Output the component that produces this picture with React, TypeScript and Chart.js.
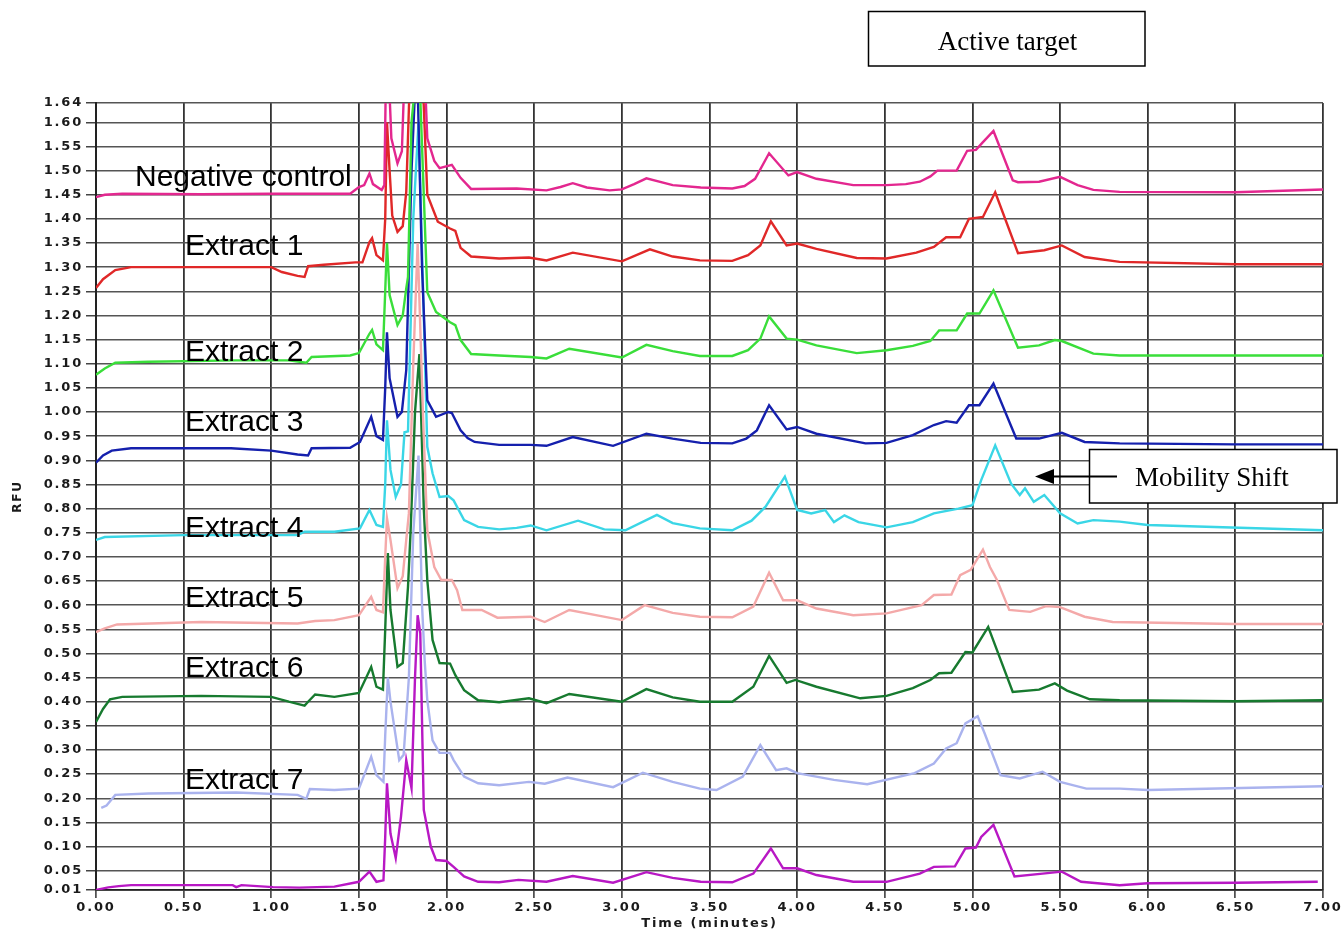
import React, { useEffect, useRef } from "react";
import { Chart, registerables } from "chart.js";

Chart.register(...registerables);

// ---- tick labels ----
const yTickValues = [
  0.01, 0.05, 0.1, 0.15, 0.2, 0.25, 0.3, 0.35, 0.4, 0.45, 0.5, 0.55, 0.6, 0.65, 0.7, 0.75, 0.8,
  0.85, 0.9, 0.95, 1.0, 1.05, 1.1, 1.15, 1.2, 1.25, 1.3, 1.35, 1.4, 1.45, 1.5, 1.55, 1.6, 1.64,
];
const xMin = 0;
const xMax = 7;
const xStep = 0.5;
const yMin = 0.01;
const yMax = 1.64;

// ---- series names & colours ----
const seriesNames = [
  "Negative control",
  "Extract 1",
  "Extract 2",
  "Extract 3",
  "Extract 4",
  "Extract 5",
  "Extract 6",
  "Extract 7",
  "Trace 9",
];
const seriesColors = [
  "#e3278f",
  "#e02828",
  "#3ade3a",
  "#1520ad",
  "#3ad6e6",
  "#f4a9a9",
  "#177a2f",
  "#aab3ee",
  "#b818c4",
];

// ---- series values: [time (min), RFU] ----
const negativeControl = [
  [0, 1.445], [0.05, 1.45], [0.15, 1.452], [0.6, 1.451], [1.0, 1.452], [1.45, 1.452], [1.5, 1.466],
  [1.53, 1.47], [1.56, 1.494], [1.58, 1.472], [1.63, 1.46], [1.645, 1.47], [1.655, 1.72], [1.67, 1.7],
  [1.685, 1.567], [1.72, 1.515], [1.745, 1.54], [1.76, 1.7], [1.8, 1.9], [1.84, 2.0], [1.87, 1.75],
  [1.89, 1.567], [1.93, 1.52], [1.96, 1.505], [2.03, 1.512], [2.08, 1.485], [2.14, 1.462], [2.4, 1.463],
  [2.57, 1.459], [2.65, 1.466], [2.72, 1.474], [2.8, 1.465], [2.93, 1.459], [3.0, 1.461], [3.07, 1.472],
  [3.14, 1.484], [3.29, 1.47], [3.45, 1.465], [3.63, 1.463], [3.7, 1.468], [3.76, 1.483], [3.84, 1.536],
  [3.95, 1.49], [4.0, 1.497], [4.11, 1.483], [4.32, 1.47], [4.51, 1.47], [4.62, 1.472], [4.7, 1.477],
  [4.76, 1.488], [4.8, 1.5], [4.91, 1.5], [4.97, 1.541], [5.02, 1.543], [5.06, 1.559], [5.12, 1.582],
  [5.23, 1.48], [5.26, 1.476], [5.38, 1.477], [5.5, 1.487], [5.6, 1.47], [5.69, 1.46], [5.84, 1.456],
  [6.5, 1.455], [7.0, 1.461],
];
const extract1 = [
  [0, 1.257], [0.04, 1.275], [0.11, 1.294], [0.2, 1.3], [0.6, 1.3], [1.0, 1.3], [1.06, 1.29],
  [1.15, 1.282], [1.19, 1.28], [1.21, 1.302], [1.3, 1.305], [1.48, 1.31], [1.52, 1.31], [1.56, 1.352],
  [1.575, 1.36], [1.6, 1.325], [1.637, 1.314], [1.65, 1.4], [1.66, 1.6], [1.675, 1.5], [1.69, 1.407],
  [1.72, 1.373], [1.75, 1.385], [1.77, 1.456], [1.8, 1.8], [1.84, 1.9], [1.875, 1.588], [1.89, 1.45],
  [1.95, 1.394], [2.02, 1.38], [2.05, 1.375], [2.08, 1.34], [2.14, 1.322], [2.3, 1.318], [2.47, 1.32],
  [2.57, 1.314], [2.72, 1.33], [3.0, 1.312], [3.16, 1.337], [3.29, 1.322], [3.445, 1.314], [3.63, 1.313],
  [3.72, 1.325], [3.79, 1.345], [3.85, 1.395], [3.94, 1.345], [4.0, 1.349], [4.11, 1.338], [4.34, 1.319],
  [4.51, 1.318], [4.68, 1.33], [4.78, 1.342], [4.85, 1.362], [4.93, 1.362], [4.98, 1.4], [5.06, 1.404],
  [5.13, 1.455], [5.26, 1.329], [5.41, 1.335], [5.51, 1.345], [5.64, 1.321], [5.84, 1.311], [6.5, 1.306],
  [7.0, 1.306],
];
const extract2 = [
  [0, 1.077], [0.05, 1.09], [0.11, 1.102], [0.3, 1.104], [0.8, 1.107], [1.1, 1.107], [1.2, 1.102],
  [1.23, 1.114], [1.45, 1.117], [1.5, 1.122], [1.56, 1.162], [1.575, 1.17], [1.6, 1.14], [1.637, 1.128],
  [1.65, 1.25], [1.66, 1.35], [1.675, 1.242], [1.72, 1.18], [1.75, 1.2], [1.77, 1.256], [1.78, 1.28],
  [1.8, 1.6], [1.84, 1.75], [1.875, 1.4], [1.89, 1.248], [1.94, 1.207], [2.02, 1.186], [2.05, 1.18],
  [2.08, 1.149], [2.14, 1.12], [2.3, 1.117], [2.48, 1.114], [2.57, 1.111], [2.7, 1.131], [3.0, 1.113],
  [3.14, 1.139], [3.29, 1.126], [3.445, 1.116], [3.63, 1.116], [3.72, 1.128], [3.79, 1.152], [3.84, 1.198],
  [3.94, 1.152], [4.0, 1.15], [4.11, 1.138], [4.34, 1.122], [4.51, 1.128], [4.66, 1.137], [4.76, 1.147],
  [4.81, 1.169], [4.91, 1.169], [4.97, 1.204], [5.04, 1.204], [5.12, 1.252], [5.26, 1.133], [5.38, 1.138],
  [5.47, 1.149], [5.51, 1.147], [5.69, 1.121], [5.84, 1.117], [6.5, 1.117], [7.0, 1.117],
];
const extract3 = [
  [0, 0.895], [0.04, 0.91], [0.09, 0.92], [0.2, 0.925], [0.77, 0.925], [1.0, 0.92], [1.15, 0.912],
  [1.21, 0.91], [1.23, 0.925], [1.45, 0.926], [1.506, 0.938], [1.57, 0.99], [1.6, 0.95], [1.637, 0.942],
  [1.65, 1.05], [1.66, 1.165], [1.675, 1.07], [1.72, 0.99], [1.745, 1.0], [1.77, 1.087], [1.8, 1.5],
  [1.83, 1.75], [1.86, 1.3], [1.89, 1.024], [1.92, 1.004], [1.94, 0.99], [2.01, 1.0], [2.03, 0.998],
  [2.08, 0.962], [2.12, 0.946], [2.16, 0.938], [2.3, 0.932], [2.48, 0.932], [2.57, 0.93], [2.72, 0.948],
  [2.95, 0.93], [3.14, 0.955], [3.29, 0.945], [3.45, 0.936], [3.63, 0.935], [3.71, 0.945], [3.77, 0.962],
  [3.84, 1.014], [3.94, 0.964], [4.0, 0.969], [4.11, 0.955], [4.39, 0.935], [4.51, 0.936], [4.66, 0.952],
  [4.78, 0.973], [4.85, 0.981], [4.91, 0.978], [4.98, 1.014], [5.04, 1.014], [5.12, 1.059], [5.25, 0.945],
  [5.38, 0.945], [5.51, 0.957], [5.64, 0.938], [5.84, 0.935], [6.5, 0.933], [7.0, 0.933],
];
const extract4 = [
  [0, 0.735], [0.05, 0.741], [0.5, 0.745], [1.15, 0.745], [1.19, 0.752], [1.36, 0.752], [1.506, 0.759],
  [1.56, 0.797], [1.6, 0.766], [1.637, 0.762], [1.65, 0.85], [1.66, 0.983], [1.68, 0.88], [1.71, 0.824],
  [1.74, 0.85], [1.76, 0.958], [1.78, 0.96], [1.81, 1.4], [1.84, 1.6], [1.87, 1.2], [1.89, 0.928],
  [1.92, 0.873], [1.96, 0.824], [2.01, 0.826], [2.04, 0.817], [2.1, 0.776], [2.18, 0.762], [2.3, 0.757],
  [2.4, 0.76], [2.48, 0.765], [2.57, 0.755], [2.75, 0.775], [2.9, 0.757], [3.02, 0.755], [3.2, 0.787],
  [3.29, 0.77], [3.445, 0.759], [3.63, 0.755], [3.74, 0.775], [3.82, 0.804], [3.9, 0.849], [3.93, 0.866],
  [4.0, 0.797], [4.08, 0.79], [4.16, 0.797], [4.21, 0.772], [4.27, 0.786], [4.35, 0.772], [4.51, 0.761],
  [4.66, 0.772], [4.78, 0.79], [4.92, 0.8], [5.0, 0.807], [5.05, 0.859], [5.13, 0.931], [5.22, 0.852],
  [5.27, 0.828], [5.3, 0.842], [5.35, 0.814], [5.41, 0.828], [5.5, 0.79], [5.6, 0.769], [5.69, 0.776],
  [5.84, 0.773], [6.0, 0.766], [7.0, 0.755],
];
const extract5 = [
  [0, 0.544], [0.05, 0.552], [0.12, 0.56], [0.6, 0.565], [1.15, 0.562], [1.25, 0.567], [1.36, 0.569],
  [1.5, 0.579], [1.57, 0.617], [1.6, 0.59], [1.637, 0.585], [1.65, 0.7], [1.66, 0.78], [1.68, 0.735],
  [1.72, 0.635], [1.75, 0.66], [1.77, 0.735], [1.785, 0.79], [1.81, 1.1], [1.835, 1.35], [1.865, 1.0],
  [1.89, 0.755], [1.93, 0.679], [1.97, 0.652], [2.03, 0.652], [2.06, 0.631], [2.09, 0.59], [2.2, 0.59],
  [2.29, 0.574], [2.48, 0.576], [2.56, 0.565], [2.7, 0.59], [3.0, 0.569], [3.13, 0.6], [3.29, 0.584],
  [3.445, 0.576], [3.63, 0.575], [3.75, 0.597], [3.84, 0.667], [3.92, 0.61], [4.0, 0.61], [4.11, 0.593],
  [4.32, 0.579], [4.51, 0.583], [4.71, 0.6], [4.78, 0.621], [4.88, 0.622], [4.93, 0.662], [4.99, 0.673],
  [5.06, 0.715], [5.1, 0.679], [5.14, 0.652], [5.21, 0.59], [5.33, 0.586], [5.42, 0.598], [5.5, 0.596],
  [5.64, 0.576], [5.8, 0.565], [6.5, 0.561], [7.0, 0.561],
];
const extract6 = [
  [0, 0.358], [0.04, 0.385], [0.08, 0.405], [0.15, 0.41], [0.6, 0.412], [1.0, 0.41], [1.1, 0.4],
  [1.19, 0.392], [1.21, 0.4], [1.25, 0.415], [1.36, 0.41], [1.5, 0.418], [1.57, 0.472], [1.6, 0.431],
  [1.637, 0.425], [1.65, 0.55], [1.665, 0.708], [1.68, 0.59], [1.72, 0.472], [1.75, 0.48], [1.78, 0.638],
  [1.795, 0.755], [1.82, 1.0], [1.845, 1.12], [1.87, 0.8], [1.89, 0.652], [1.92, 0.528], [1.96, 0.48],
  [2.02, 0.479], [2.05, 0.455], [2.1, 0.424], [2.18, 0.403], [2.3, 0.399], [2.47, 0.407], [2.57, 0.397],
  [2.7, 0.416], [3.0, 0.4], [3.14, 0.426], [3.29, 0.409], [3.445, 0.4], [3.63, 0.4], [3.75, 0.431],
  [3.84, 0.495], [3.94, 0.439], [3.99, 0.445], [4.11, 0.431], [4.36, 0.407], [4.51, 0.412], [4.66, 0.428],
  [4.76, 0.445], [4.81, 0.459], [4.88, 0.46], [4.96, 0.503], [5.0, 0.502], [5.09, 0.555], [5.23, 0.42],
  [5.38, 0.425], [5.47, 0.438], [5.54, 0.423], [5.67, 0.405], [5.84, 0.403], [6.5, 0.401], [7.0, 0.403],
];
const extract7 = [
  [0.03, 0.18], [0.06, 0.185], [0.11, 0.207], [0.3, 0.21], [0.8, 0.212], [1.15, 0.207], [1.2, 0.199],
  [1.22, 0.219], [1.36, 0.217], [1.5, 0.22], [1.57, 0.286], [1.6, 0.248], [1.64, 0.234], [1.65, 0.33],
  [1.665, 0.45], [1.68, 0.4], [1.73, 0.279], [1.755, 0.29], [1.77, 0.369], [1.785, 0.45], [1.81, 0.75],
  [1.84, 0.91], [1.86, 0.6], [1.875, 0.486], [1.89, 0.403], [1.92, 0.32], [1.96, 0.294], [2.02, 0.294],
  [2.04, 0.279], [2.1, 0.245], [2.18, 0.231], [2.3, 0.227], [2.47, 0.234], [2.56, 0.23], [2.69, 0.243],
  [2.95, 0.223], [3.12, 0.253], [3.29, 0.234], [3.445, 0.22], [3.54, 0.217], [3.69, 0.245], [3.79, 0.31],
  [3.88, 0.258], [3.94, 0.262], [4.0, 0.252], [4.21, 0.238], [4.4, 0.229], [4.67, 0.252], [4.78, 0.272],
  [4.85, 0.303], [4.91, 0.314], [4.96, 0.355], [5.03, 0.37], [5.07, 0.334], [5.16, 0.248], [5.27, 0.241],
  [5.4, 0.255], [5.5, 0.234], [5.65, 0.22], [5.84, 0.22], [6.0, 0.217], [7.0, 0.225],
];
const trace9 = [
  [0, 0.01], [0.07, 0.0155], [0.13, 0.018], [0.2, 0.02], [0.78, 0.02], [0.8, 0.016], [0.83, 0.02],
  [1.01, 0.016], [1.16, 0.015], [1.36, 0.017], [1.5, 0.027], [1.56, 0.048], [1.6, 0.027], [1.64, 0.03],
  [1.65, 0.12], [1.66, 0.231], [1.68, 0.127], [1.71, 0.076], [1.74, 0.162], [1.77, 0.279], [1.8, 0.221],
  [1.82, 0.45], [1.835, 0.579], [1.85, 0.542], [1.87, 0.176], [1.91, 0.1], [1.94, 0.072], [2.0, 0.07],
  [2.04, 0.058], [2.1, 0.038], [2.18, 0.027], [2.3, 0.026], [2.41, 0.031], [2.57, 0.027], [2.72, 0.039],
  [2.95, 0.025], [3.14, 0.047], [3.29, 0.035], [3.45, 0.027], [3.63, 0.026], [3.75, 0.044], [3.85, 0.096],
  [3.92, 0.055], [4.0, 0.055], [4.11, 0.041], [4.32, 0.027], [4.51, 0.027], [4.7, 0.044], [4.78, 0.058],
  [4.9, 0.059], [4.96, 0.096], [5.02, 0.098], [5.05, 0.12], [5.12, 0.145], [5.24, 0.038], [5.4, 0.044],
  [5.51, 0.048], [5.62, 0.027], [5.84, 0.02], [6.0, 0.024], [6.5, 0.025], [6.97, 0.027],
];

const allSeries = [
  negativeControl, extract1, extract2, extract3, extract4, extract5, extract6, extract7, trace9,
];

// ---- annotation texts ----
const traceLabels = [
  "Negative control", "Extract 1", "Extract 2", "Extract 3", "Extract 4",
  "Extract 5", "Extract 6", "Extract 7",
];
const boxLabelTop = "Active target";
const boxLabelShift = "Mobility Shift";

// annotation placement (pixels)
const traceLabelPos: [number, number][] = [
  [135, 185.5], [185, 255], [185, 360.5], [185, 431], [185, 536.5], [185, 607], [185, 677], [185, 788.5],
];

const tickFont = { family: '"DejaVu Sans", Verdana, sans-serif', size: 13, weight: "bold" as const };
const titleFont = { family: '"DejaVu Sans", Verdana, sans-serif', size: 13, weight: "bold" as const };

const decorPlugin = {
  id: "decor",
  beforeDraw(chart: any) {
    chart.ctx.letterSpacing = "1.8px";
  },
  afterDraw(chart: any) {
    const ctx = chart.ctx as CanvasRenderingContext2D;
    (ctx as any).letterSpacing = "0px";
    ctx.save();
    ctx.fillStyle = "#000";
    ctx.textBaseline = "alphabetic";
    ctx.textAlign = "left";
    ctx.font = '30px "Liberation Sans", Arial, sans-serif';
    traceLabels.forEach((t, i) => {
      const [x, y] = traceLabelPos[i];
      ctx.fillText(t, x, y);
    });

    // Active target box
    ctx.lineWidth = 1.5;
    ctx.strokeStyle = "#000";
    ctx.fillStyle = "#fff";
    ctx.fillRect(868.5, 11.5, 276.5, 54.5);
    ctx.strokeRect(868.5, 11.5, 276.5, 54.5);
    ctx.fillStyle = "#000";
    ctx.font = '27px "Liberation Serif", "Times New Roman", serif';
    ctx.textAlign = "center";
    ctx.fillText(boxLabelTop, 1007.5, 49.5);

    // Mobility shift box
    ctx.fillStyle = "#fff";
    ctx.fillRect(1089.5, 449.5, 247.5, 53.5);
    ctx.strokeRect(1089.5, 449.5, 247.5, 53.5);
    ctx.fillStyle = "#000";
    ctx.textAlign = "left";
    ctx.fillText(boxLabelShift, 1135, 485.7);

    // arrow
    ctx.lineWidth = 2;
    ctx.beginPath();
    ctx.moveTo(1117, 476.5);
    ctx.lineTo(1050, 476.5);
    ctx.stroke();
    ctx.beginPath();
    ctx.moveTo(1035, 476.5);
    ctx.lineTo(1054, 469);
    ctx.lineTo(1054, 484);
    ctx.closePath();
    ctx.fill();
    ctx.restore();
  },
};

export default function App() {
  const canvasRef = useRef<HTMLCanvasElement | null>(null);

  useEffect(() => {
    if (!canvasRef.current) return;
    const datasets = allSeries.map((pts, i) => ({
      label: seriesNames[i],
      data: pts.map(([x, y]) => ({ x, y })),
      borderColor: seriesColors[i],
      backgroundColor: seriesColors[i],
      borderWidth: 2.4,
      pointRadius: 0,
      fill: false,
      tension: 0,
    }));

    const chart = new Chart(canvasRef.current, {
      type: "line",
      data: { datasets },
      options: {
        animation: false,
        responsive: true,
        maintainAspectRatio: false,
        layout: { padding: { top: 103, right: 19, left: 0, bottom: 0 } },
        plugins: { legend: { display: false }, tooltip: { enabled: false } },
        scales: {
          x: {
            type: "linear",
            min: xMin,
            max: xMax,
            ticks: {
              stepSize: xStep,
              autoSkip: false,
              maxRotation: 0,
              padding: 2,
              color: "#1a1a1a",
              font: tickFont,
              callback: (v: any) => Number(v).toFixed(2),
            },
            grid: { color: "#333", lineWidth: 1.8, tickLength: 8, tickColor: "#333", tickWidth: 1.5 },
            border: { color: "#222", width: 1.8 },
            title: {
              display: true,
              text: "Time (minutes)",
              color: "#1a1a1a",
              font: titleFont,
              padding: { top: 0, bottom: 2 },
            },
            afterFit: (s: any) => {
              s.height = 43;
              s.paddingLeft = 0;
              s.paddingRight = 0;
            },
          },
          y: {
            type: "linear",
            min: yMin,
            max: yMax,
            afterBuildTicks: (s: any) => {
              s.ticks = yTickValues.map((v) => ({ value: v }));
            },
            ticks: {
              autoSkip: false,
              padding: 3,
              color: "#1a1a1a",
              font: tickFont,
              callback: (v: any) => Number(v).toFixed(2),
            },
            grid: { color: "#555", lineWidth: 1.5, tickLength: 10, tickColor: "#444", tickWidth: 1.5 },
            border: { color: "#222", width: 2 },
            title: {
              display: true,
              text: "RFU",
              color: "#1a1a1a",
              font: { family: '"DejaVu Sans", Verdana, sans-serif', size: 12, weight: "bold" as const },
              padding: { top: 11, bottom: 0 },
            },
            afterFit: (s: any) => {
              s.width = 96;
              s.paddingTop = 0;
              s.paddingBottom = 0;
            },
          },
        },
      },
      plugins: [decorPlugin],
    });
    return () => chart.destroy();
  }, []);

  return (
    <div style={{ position: "absolute", left: 0, top: 0, width: 1342, height: 933, background: "#fff" }}>
      <canvas ref={canvasRef} />
    </div>
  );
}
